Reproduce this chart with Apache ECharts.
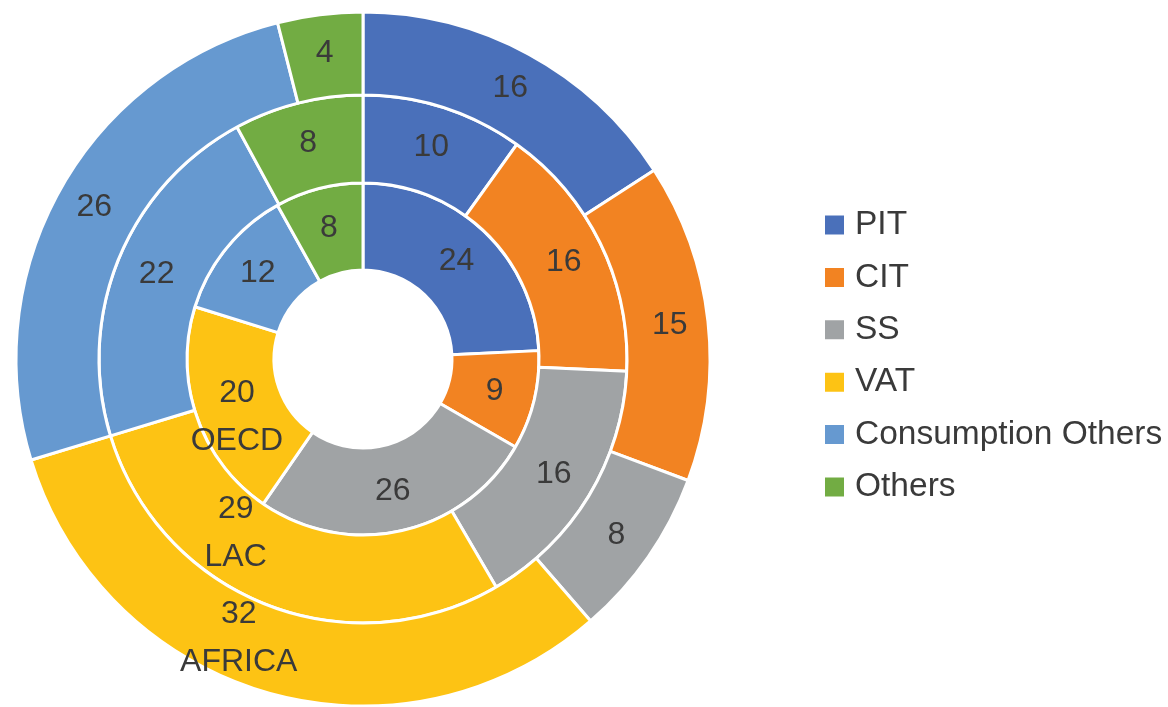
<!DOCTYPE html>
<html>
<head>
<meta charset="utf-8">
<script src="https://cdn.jsdelivr.net/npm/echarts@6/dist/echarts.min.js"></script>
<style>
html,body{margin:0;padding:0;background:#fff;}
#chart{width:1168px;height:707px;}
</style>
</head>
<body>
<div id="chart"></div>
<script>
const categories = ['PIT', 'CIT', 'SS', 'VAT', 'Consumption Others', 'Others'];
const ringNames = ['OECD', 'LAC', 'AFRICA'];
const oecdValues = [24, 9, 26, 20, 12, 8];
const lacValues = [10, 16, 16, 29, 22, 8];
const africaValues = [16, 15, 8, 32, 26, 4];
const colors = ['#4A70BA', '#F28322', '#A0A3A5', '#FDC314', '#6699D0', '#72AC43'];

const ringValues = [oecdValues, lacValues, africaValues];
const ringRadii = [[89, 176], [176, 264], [264, 347]];
const nameLabelIndex = 3; // VAT slice carries the ring name
const nameLabelOffsets = [[2, 14], [-46, -33], [-39, -17]];

const chart = echarts.init(document.getElementById('chart'), null, {renderer: 'canvas'});

const series = ringValues.map((vals, ri) => ({
  name: ringNames[ri],
  type: 'pie',
  center: [363, 359],
  radius: ringRadii[ri],
  startAngle: 90,
  clockwise: true,
  avoidLabelOverlap: false,
  silent: true,
  itemStyle: {borderColor: '#ffffff', borderWidth: 3},
  label: {
    show: true,
    position: 'inside',
    formatter: '{c}',
    color: '#3a3a3a',
    fontFamily: '"Liberation Sans", Arial, Helvetica, sans-serif',
    fontSize: 32
  },
  labelLine: {show: false},
  emphasis: {disabled: true},
  data: vals.map((v, i) => {
    const item = {name: categories[i], value: v};
    if (i === nameLabelIndex) {
      item.label = {formatter: '{c}\n{a}', lineHeight: 48, offset: nameLabelOffsets[ri]};
    }
    return item;
  })
}));

chart.setOption({
  animation: false,
  color: colors,
  legend: {
    orient: 'vertical',
    left: 818,
    top: 203,
    itemWidth: 21,
    itemHeight: 21,
    itemGap: 18.4,
    icon: 'rect',
    data: categories,
    selectedMode: false,
    textStyle: {
      color: '#3a3a3a',
      fontFamily: '"Liberation Sans", Arial, Helvetica, sans-serif',
      fontSize: 33.5,
      lineHeight: 32.5,
      padding: [0, 0, 0, 5]
    }
  },
  series: series
});
</script>
</body>
</html>
